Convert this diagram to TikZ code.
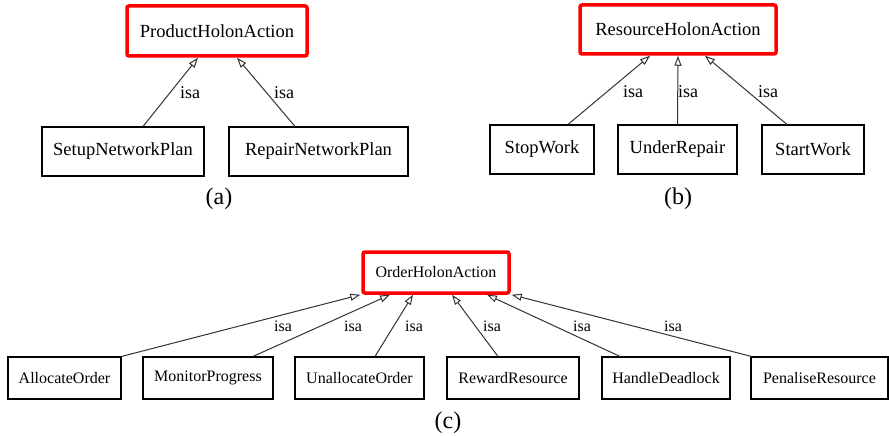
\documentclass[tikz,border=0pt]{standalone}
\usepackage{fontspec}
\setmainfont{Liberation Serif}
\usetikzlibrary{arrows.meta}
\begin{document}
\begin{tikzpicture}[x=1pt,y=-1pt,
  box/.style={draw=black,line width=1.1pt,inner sep=0pt,font=\fontsize{18.5}{20}\selectfont},
  sbox/.style={box,font=\fontsize{16}{18}\selectfont},
  root/.style={draw=red,line width=3.5pt,rounded corners=2pt,inner sep=0pt,font=\fontsize{18.5}{20}\selectfont},
  sroot/.style={root,font=\fontsize{16}{18}\selectfont},
  isa/.style={draw=black!80,line width=1pt,-{Triangle[open,length=10pt,width=7pt]}},
  isalbl/.style={inner sep=0pt,font=\fontsize{18}{20}\selectfont},
  sisalbl/.style={inner sep=0pt,font=\fontsize{16}{18}\selectfont},
  caption/.style={inner sep=0pt,font=\fontsize{24}{26}\selectfont}]
\useasboundingbox (0,0) rectangle (889,436);

% (a) product holon actions
\node[root,minimum width=180pt,minimum height=50pt] (pha) at (217,31) {ProductHolonAction};
\node[box,minimum width=162pt,minimum height=49pt] (setup) at (123,151.5) {SetupNetworkPlan};
\node[box,minimum width=179pt,minimum height=49pt] (repair) at (318.5,151.5) {RepairNetworkPlan};
\draw[isa] ([xshift=20pt]setup.north) -- ([xshift=-19pt]pha.south);
\draw[isa] ([xshift=-23.5pt]repair.north) -- ([xshift=20pt]pha.south);
\node[isalbl] (la1) at (190,93) {isa};
\node[isalbl] (la2) at (284,93) {isa};
\node[caption] (capa) at (219,199) {(a)};

% (b) resource holon actions
\node[root,minimum width=196pt,minimum height=49pt] (rha) at (678,29.5) {ResourceHolonAction};
\node[box,minimum width=104pt,minimum height=49pt] (stop) at (542,149.5) {StopWork};
\node[box,minimum width=119pt,minimum height=49pt] (under) at (677.5,149.5) {UnderRepair};
\node[box,minimum width=102pt,minimum height=49pt] (start) at (813,149.5) {StartWork};
\draw[isa] ([xshift=26pt]stop.north) -- ([xshift=-28pt]rha.south);
\draw[isa] (under.north) -- (rha.south);
\draw[isa] ([xshift=-26pt]start.north) -- ([xshift=27pt]rha.south);
\node[isalbl] (lb1) at (633,92) {isa};
\node[isalbl] (lb2) at (688,92) {isa};
\node[isalbl] (lb3) at (768,92) {isa};
\node[caption] (capb) at (678,199) {(b)};

% (c) order holon actions
\node[sroot,minimum width=146pt,minimum height=41pt] (oha) at (436,272.5) {OrderHolonAction};
\node[sbox,minimum width=113pt,minimum height=42pt] (alloc) at (64.5,378) {AllocateOrder};
\node[sbox,minimum width=130pt,minimum height=42pt] (monitor) at (208,378) {MonitorProgress};
\node[sbox,minimum width=129pt,minimum height=42pt] (unalloc) at (359.5,378) {UnallocateOrder};
\node[sbox,minimum width=132pt,minimum height=42pt] (reward) at (513,378) {RewardResource};
\node[sbox,minimum width=128pt,minimum height=42pt] (deadlock) at (666,378) {HandleDeadlock};
\node[sbox,minimum width=137pt,minimum height=42pt] (penalise) at (819.5,378) {PenaliseResource};
\draw[isa] (alloc.north east) -- ([xshift=-1pt]oha.south west);
\draw[isa] ([xshift=45pt]monitor.north) -- ([xshift=-46pt]oha.south);
\draw[isa] ([xshift=15.5pt]unalloc.north) -- ([xshift=-23pt]oha.south);
\draw[isa] ([xshift=-15pt]reward.north) -- ([xshift=16pt]oha.south);
\draw[isa] ([xshift=-46pt]deadlock.north) -- ([xshift=51pt]oha.south);
\draw[isa] ([xshift=1pt]penalise.north west) -- ([xshift=1pt]oha.south east);
\node[sisalbl] (lc1) at (283,326) {isa};
\node[sisalbl] (lc2) at (353,326) {isa};
\node[sisalbl] (lc3) at (414,326) {isa};
\node[sisalbl] (lc4) at (492,326) {isa};
\node[sisalbl] (lc5) at (582,326) {isa};
\node[sisalbl] (lc6) at (673,326) {isa};
\node[caption] (capc) at (448,423) {(c)};
\end{tikzpicture}
\end{document}
